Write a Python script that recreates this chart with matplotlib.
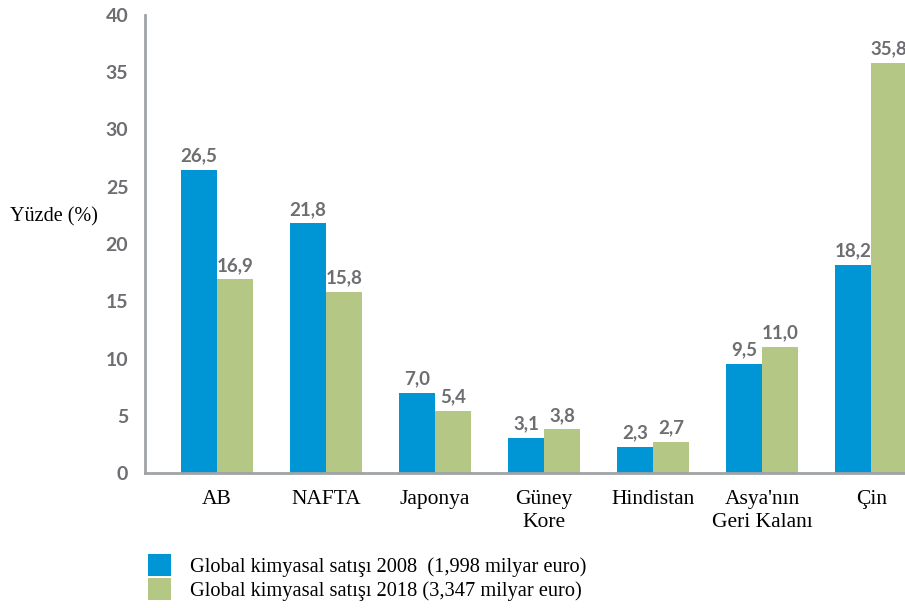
import numpy as np
import matplotlib
matplotlib.use("Agg")
import matplotlib.pyplot as plt

categories = ["AB", "NAFTA", "Japonya", "Güney\nKore", "Hindistan",
              "Asya'nın\nGeri Kalanı", "Çin"]
sales_2008 = [26.5, 21.8, 7.0, 3.1, 2.3, 9.5, 18.2]
sales_2018 = [16.9, 15.8, 5.4, 3.8, 2.7, 11.0, 35.8]
series_labels = ["Global kimyasal satışı 2008  (1,998 milyar euro)",
                 "Global kimyasal satışı 2018 (3,347 milyar euro)"]
yticks = [0, 5, 10, 15, 20, 25, 30, 35, 40]

BLUE = "#0095d4"
GREEN = "#b4c785"
GREY = "#6d6e71"
SERIF = "Liberation Serif"
SANS = "Lato"

fig = plt.figure(figsize=(9.05, 6.08), dpi=100)
ax = fig.add_axes([145 / 905, 135 / 608, 1 - 145 / 905, 458 / 608])

x = np.arange(len(categories))
w = 0.33
b1 = ax.bar(x - w / 2, sales_2008, w, color=BLUE, label=series_labels[0])
b2 = ax.bar(x + w / 2, sales_2018, w, color=GREEN, label=series_labels[1])

for bars, vals in ((b1, sales_2008), (b2, sales_2018)):
    ax.bar_label(bars, labels=[f"{v:.1f}".replace(".", ",") for v in vals],
                 padding=4, fontsize=13.5, fontweight="bold", color=GREY,
                 family=SANS, clip_on=False)

ax.set_xlim(-0.66, 6.31)
ax.set_ylim(0, 40)
ax.set_yticks(yticks)
ax.set_yticklabels([str(t) for t in yticks], fontsize=14, fontweight="bold",
                   color=GREY, family=SANS)
ax.set_xticks(x)
ax.set_xticklabels(categories, fontsize=15.5, family=SERIF, color="black",
                   linespacing=1.3)
ax.tick_params(axis="y", length=0, pad=12)
ax.tick_params(axis="x", length=0, pad=12)

for s in ("top", "right"):
    ax.spines[s].set_visible(False)
for s in ("left", "bottom"):
    ax.spines[s].set_color("#a0a3a6")
    ax.spines[s].set_linewidth(2)

fig.text(10 / 905, 1 - 217 / 608, "Yüzde (%)", fontsize=14.5, family=SERIF,
         va="center", ha="left")

fig.legend(handles=[b1, b2], labels=series_labels, loc="upper left",
           bbox_to_anchor=(148 / 905, 1 - 554 / 608), frameon=False,
           prop={"family": SERIF, "size": 14.7}, handlelength=1.15,
           handleheight=1.25, labelspacing=0.08, handletextpad=0.9,
           borderaxespad=0, borderpad=0)

fig.savefig("out.png", dpi=100)
